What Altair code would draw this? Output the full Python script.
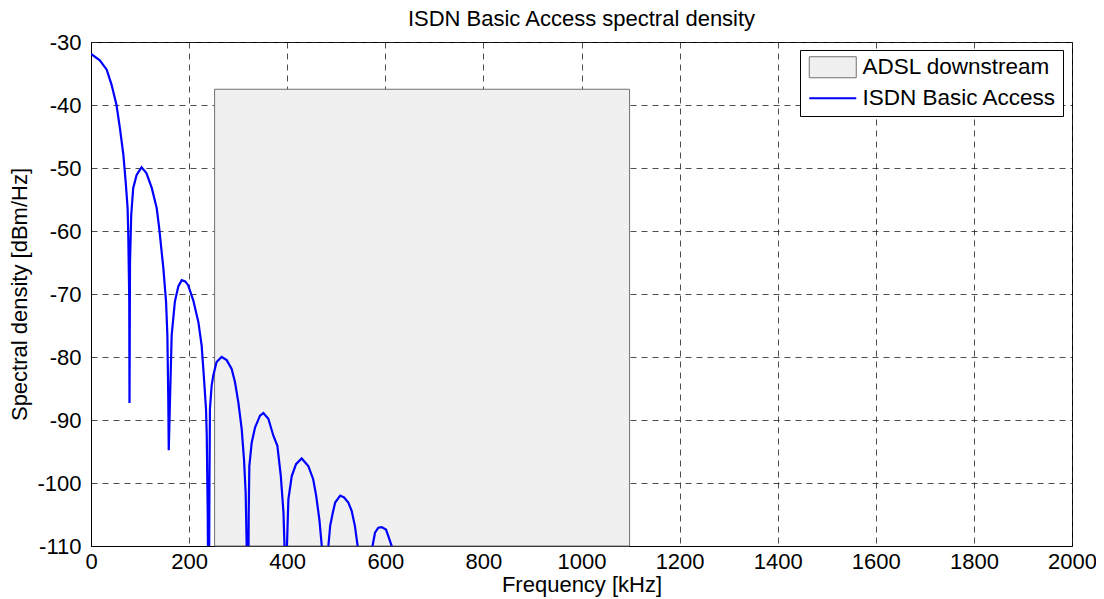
import altair as alt
import pandas as pd

# ISDN Basic Access PSD (kHz, dBm/Hz); values below -110 are clipped
freq = [0, 18, 32, 42, 52, 59, 66, 70.7, 74.6, 76, 78, 78.5,
        79.5, 82, 86, 93, 103, 113, 124, 134, 139, 147.5, 153, 155.7, 157.6, 158.5,
        161, 164.5, 171, 178, 185, 192, 198, 208.5, 219, 225.6, 230, 234.5, 236, 238, 240,
        241.5, 242.5, 246, 249.4, 256, 266.4, 276.6, 286.8, 293.6, 300.4, 307.2, 311.9, 315.3, 317.4, 320,
        321.5, 322.8, 327.6, 334.4, 344.6, 351.4, 361.6, 371.8, 380, 387, 392.4, 394.5, 397,
        399.5, 402.4, 409.3, 418, 429.5, 443, 453, 459, 465.6, 470.5, 477,
        484, 487.6, 493, 497.8, 508, 516, 524.6, 531.4, 538, 543.6, 558,
        574, 579, 585.7, 592.6, 601.4, 606, 613, 630]
psd = [-31.9, -32.9, -34.4, -36.8, -40.0, -43.7, -47.9, -52.2, -56.3, -60.6, -71.0, -87.3,
       -65.0, -57.5, -53.2, -51.1, -49.9, -50.8, -53.2, -56.4, -59.5, -65.9, -71.2, -76.5, -87.0, -94.8,
       -87.0, -76.5, -71.2, -68.8, -67.8, -68.0, -68.6, -71.0, -74.5, -78.2, -83.0, -88.3, -92.5, -105.0, -130.0,
       -100.0, -88.2, -84.5, -82.9, -80.8, -80.0, -80.5, -81.9, -84.0, -87.2, -91.4, -96.2, -101.5, -110.0, -130.0,
       -105.0, -97.3, -93.6, -91.2, -89.3, -88.9, -89.8, -92.5, -94.1, -98.9, -104.7, -110.0, -130.0,
       -110.0, -102.6, -98.9, -97.0, -96.1, -97.3, -99.4, -102.0, -105.8, -110.0, -130.0,
       -110.0, -106.8, -104.7, -103.1, -102.0, -102.3, -103.1, -104.4, -106.8, -110.0, -130.0,
       -110.0, -107.9, -107.1, -107.0, -107.4, -108.4, -110.0, -130.0]

# ADSL downstream band
adsl_name = ["ADSL downstream"]
adsl_f_start = [252]
adsl_f_end = [1098]
adsl_level = [-37.5]
adsl_floor = [-110]

series_names = ["ADSL downstream", "ISDN Basic Access"]
series_colors = ["#f0f0f0", "#0000ff"]

x_ticks = list(range(0, 2001, 200))
y_ticks = list(range(-110, -29, 10))

FONT = "Liberation Sans"

rect_df = pd.DataFrame({"series": adsl_name, "f0": adsl_f_start, "f1": adsl_f_end,
                        "top": adsl_level, "bottom": adsl_floor})
line_df = pd.DataFrame({"f": freq, "psd": psd})

xscale = alt.Scale(domain=[0, 2000], nice=False, zero=False)
yscale = alt.Scale(domain=[-110, -30], nice=False, zero=False)

x_axis = alt.Axis(values=x_ticks, title="Frequency [kHz]", labelExpr="'' + datum.value",
                  labelPadding=5, titlePadding=2, labelFlush=False)
y_axis = alt.Axis(values=y_ticks, title="Spectral density [dBm/Hz]", labelExpr="'' + datum.value",
                  labelPadding=10, titlePadding=5, labelFlush=False)

is_adsl = "datum.value == 'ADSL downstream'"

rect = alt.Chart(rect_df).mark_rect(stroke="#707070").encode(
    x=alt.X("f0:Q", scale=xscale, axis=x_axis),
    x2="f1:Q",
    y=alt.Y("top:Q", scale=yscale, axis=y_axis),
    y2="bottom:Q",
    fill=alt.Fill("series:N", scale=alt.Scale(domain=series_names, range=series_colors),
                  legend=alt.Legend(
                      title=None, orient="none", legendX=709, legendY=8, direction="vertical",
                      symbolType={"expr": is_adsl + " ? 'M-1,-0.447H1V0.447H-1Z' : 'stroke'"},
                      symbolSize=2209,
                      symbolStrokeColor={"expr": is_adsl + " ? '#707070' : '#0000ff'"},
                      symbolStrokeWidth={"expr": is_adsl + " ? 1 : 2.2"},
                      symbolOpacity=1,
                      rowPadding=7, padding=6, symbolOffset=15.5, labelOffset=18.5,
                      labelFontSize=22.5, labelFont=FONT, labelColor="black", labelLimit=0,
                      strokeColor="black", fillColor="white")),
)

line = alt.Chart(line_df).mark_line(clip=True, strokeWidth=2.2, color="#0000ff").encode(
    x=alt.X("f:Q", scale=xscale),
    y=alt.Y("psd:Q", scale=yscale),
)

chart = alt.layer(rect, line).properties(
    width=981, height=504,
    autosize=alt.AutoSizeParams(type="none"),
    padding={"left": 83, "top": 34, "right": 24, "bottom": 53},
    title=alt.TitleParams("ISDN Basic Access spectral density", fontSize=22, font=FONT,
                          fontWeight="normal", color="black", offset=0, anchor="middle"),
).configure_view(
    stroke="black", strokeWidth=1
).configure_axis(
    labelFont=FONT, labelFontSize=22, labelColor="black",
    titleFont=FONT, titleFontSize=22, titleColor="black", titleFontWeight="normal",
    ticks=False, domainColor="black", domainWidth=1,
    grid=True, gridColor="#222222", gridDash=[6, 5], gridWidth=1, gridOpacity=0.8,
)

chart.save("out.html", embed_options={"renderer": "svg", "actions": False})
